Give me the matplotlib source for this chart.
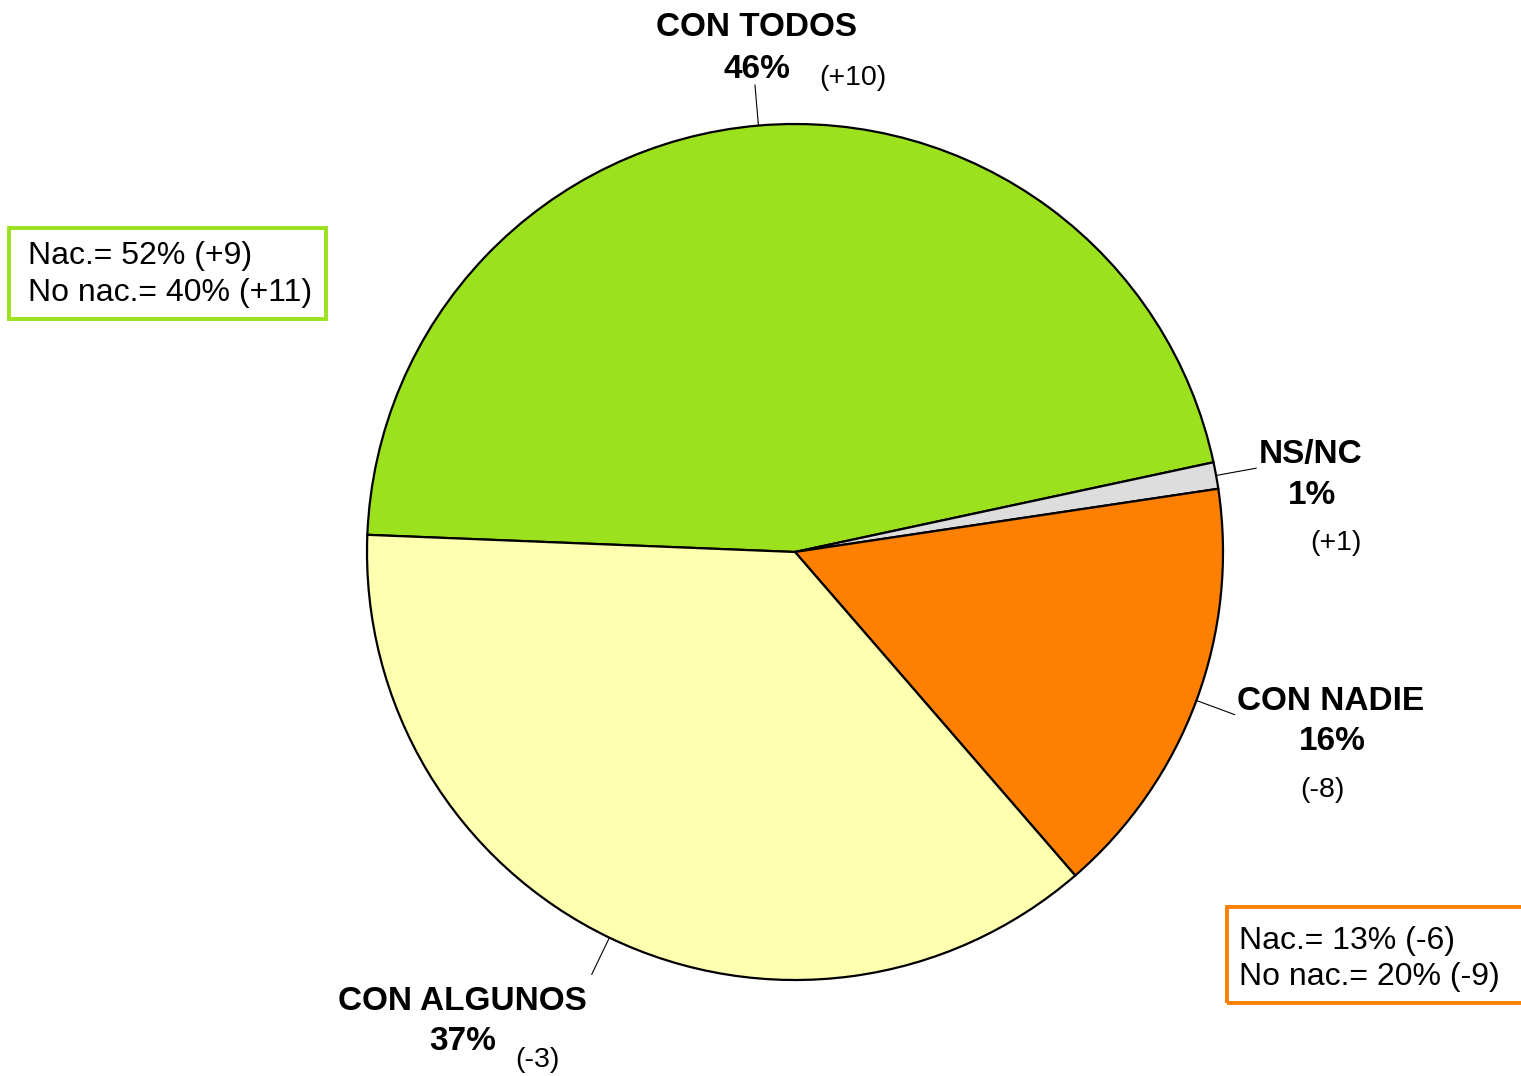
import numpy as np
import matplotlib
matplotlib.use("Agg")
import matplotlib.pyplot as plt
from matplotlib.patches import Rectangle

plt.rcParams['font.family'] = ['Liberation Sans', 'DejaVu Sans']

# ---- data ----
categories = ["CON TODOS", "NS/NC", "CON NADIE", "CON ALGUNOS"]
values = [46, 1, 16, 37]
changes = ["(+10)", "(+1)", "(-8)", "(-3)"]
colors = ["#9CE11E", "#DDDDDD", "#FF8000", "#FFFFB0"]
box_green = ["Nac.= 52% (+9)", "No nac.= 40% (+11)"]
box_orange = ["Nac.= 13% (-6)", "No nac.= 20% (-9)"]

W, H = 1521, 1076
fig = plt.figure(figsize=(W / 100, H / 100), dpi=100)
ax = fig.add_axes([0, 0, 1, 1])
ax.set_xlim(0, W)
ax.set_ylim(0, H)
ax.set_aspect('equal')
ax.axis('off')

def Y(ypix):
    return H - ypix - 3

cx, cy, R = 795, H - 552, 428
wedges, _ = ax.pie(values, colors=colors, startangle=177.7, counterclock=False,
                   center=(cx, cy), radius=R,
                   wedgeprops=dict(edgecolor='black', linewidth=1.6))
ax.set_xlim(0, W)
ax.set_ylim(0, H)

# leader lines from wedge midpoints
for w in wedges:
    ang = np.deg2rad((w.theta1 + w.theta2) / 2)
    x0, y0 = cx + R * np.cos(ang), cy + R * np.sin(ang)
    x1, y1 = cx + 1.095 * R * np.cos(ang), cy + 1.095 * R * np.sin(ang)
    ax.plot([x0, x1], [y0, y1], color='black', lw=0.8)

# labels: (name pos, pct pos, change pos) in pixel coords
label_pos = [
    ((756, 25), (757, 66), (853, 75)),
    ((1311, 452), (1312, 492), (1336, 540)),
    ((1331, 698), (1332, 739), (1322, 787)),
    ((462, 998), (463, 1039), (537, 1057)),
]
for cat, v, ch, (p1, p2, p3) in zip(categories, values, changes, label_pos):
    ax.text(p1[0], Y(p1[1]), cat, fontsize=24, fontweight='bold', ha='center', va='center')
    ax.text(p2[0], Y(p2[1]), f"{v}%", fontsize=24, fontweight='bold', ha='center', va='center')
    ax.text(p3[0], Y(p3[1]), ch, fontsize=20.5, ha='center', va='center')

# boxes
ax.add_patch(Rectangle((9, H - 319), 317, 91, fill=False, edgecolor="#9CE11E", lw=2.8, clip_on=False))
ax.text(28, Y(253), box_green[0], fontsize=23, ha='left', va='center')
ax.text(28, Y(290), box_green[1], fontsize=23, ha='left', va='center')

ax.add_patch(Rectangle((1227, H - 1003), 320, 96, fill=False, edgecolor="#FF8000", lw=2.8, clip_on=False))
ax.text(1239, Y(938), box_orange[0], fontsize=23, ha='left', va='center')
ax.text(1239, Y(974), box_orange[1], fontsize=23, ha='left', va='center')

fig.savefig("out.png", dpi=100, facecolor='white')
